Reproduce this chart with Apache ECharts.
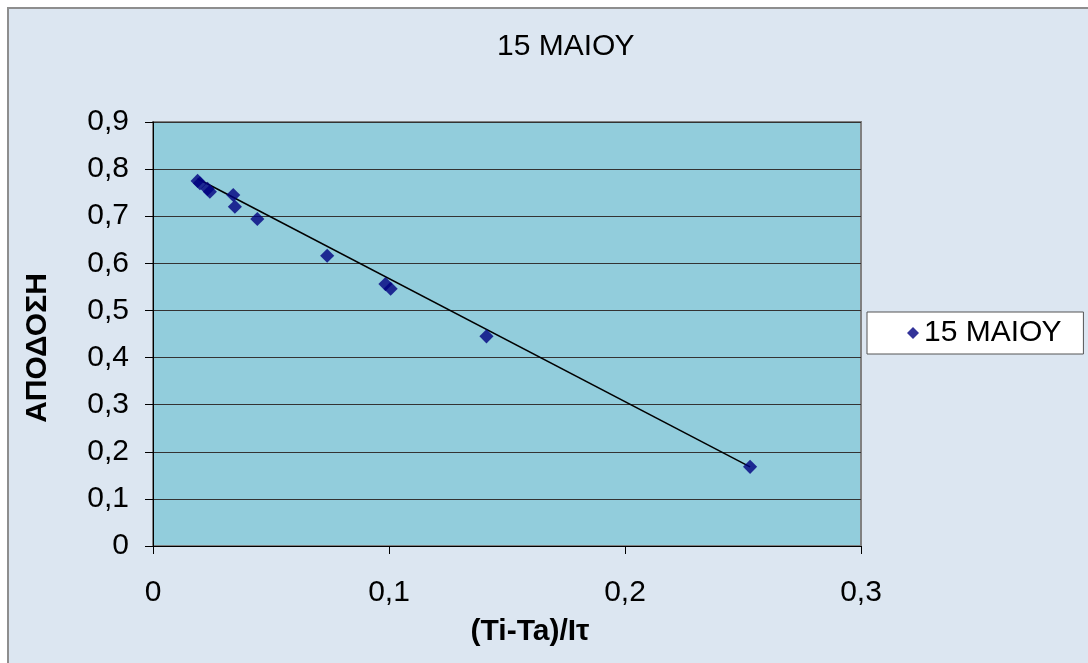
<!DOCTYPE html>
<html>
<head>
<meta charset="utf-8">
<script src="https://cdn.jsdelivr.net/npm/echarts@6/dist/echarts.min.js"></script>
<style>
html, body { margin: 0; padding: 0; background: #ffffff; }
#chart { width: 1088px; height: 663px; }
</style>
</head>
<body>
<div id="chart"></div>
<script>
// Efficiency vs (Ti-Ta)/Iτ measurements, 15 May
const seriesName = '15 ΜΑΙΟΥ';
const xValues = [0.0189, 0.0199, 0.0231, 0.0241, 0.0340, 0.0347, 0.0442, 0.0738, 0.0985, 0.1007, 0.1413, 0.2530];
const yValues = [0.775, 0.770, 0.758, 0.752, 0.745, 0.720, 0.694, 0.616, 0.556, 0.546, 0.445, 0.168];

// Linear trend line end points
const trendX = [0.0189, 0.2530];
const trendY = [0.7796, 0.1680];

const xTickLabels = ['0', '0,1', '0,2', '0,3'];
const yTickLabels = ['0', '0,1', '0,2', '0,3', '0,4', '0,5', '0,6', '0,7', '0,8', '0,9'];

const FONT = "'Liberation Sans', Arial, sans-serif";
const FS = 30;

const points = xValues.map((x, i) => [x, yValues[i]]);
const trend = trendX.map((x, i) => [x, trendY[i]]);

const chart = echarts.init(document.getElementById('chart'), null, { renderer: 'canvas' });

chart.setOption({
  backgroundColor: '#ffffff',
  animation: false,
  graphic: [{
    type: 'rect',
    z: -10,
    shape: { x: 8, y: 8, width: 1100, height: 700 },
    style: { fill: '#DCE6F1', stroke: '#8E8E8E', lineWidth: 2 }
  }],
  title: {
    text: seriesName,
    left: 497,
    top: 32,
    padding: 0,
    textStyle: { fontFamily: FONT, fontSize: FS, fontWeight: 'normal', color: '#000' }
  },
  legend: {
    data: [seriesName],
    left: 867,
    top: 312,
    orient: 'vertical',
    backgroundColor: '#ffffff',
    borderColor: '#555555',
    borderWidth: 1,
    borderRadius: 0,
    padding: [6, 22, 6, 40],
    itemWidth: 12,
    itemHeight: 12,
    itemGap: 0,
    icon: 'path://M5,0L10,5L5,10L0,5Z',
    textStyle: { fontFamily: FONT, fontSize: FS, color: '#000' }
  },
  grid: {
    left: 153,
    top: 122,
    right: 227,
    bottom: 117,
    show: true,
    backgroundColor: '#92CDDC',
    borderColor: '#808080',
    borderWidth: 2
  },
  xAxis: {
    type: 'value',
    min: 0,
    max: 0.3,
    interval: 0.1,
    name: '(Ti-Ta)/Iτ',
    nameLocation: 'middle',
    nameGap: 71,
    nameTextStyle: {
      fontFamily: FONT, fontSize: FS, fontWeight: 'bold', color: '#000',
      padding: [0, 0, 0, 46]
    },
    axisLine: { show: true, onZero: false, lineStyle: { color: '#000', width: 1 } },
    axisTick: { show: true, inside: false, length: 8, lineStyle: { color: '#000' } },
    axisLabel: {
      margin: 32,
      fontFamily: FONT, fontSize: FS, color: '#000',
      formatter: v => xTickLabels[Math.round(v * 10)]
    },
    splitLine: { show: false }
  },
  yAxis: {
    type: 'value',
    min: 0,
    max: 0.9,
    interval: 0.1,
    name: 'ΑΠΟΔΟΣΗ',
    nameLocation: 'middle',
    nameRotate: 90,
    nameGap: 100,
    nameTextStyle: {
      fontFamily: FONT, fontSize: FS, fontWeight: 'bold', color: '#000',
      padding: [0, 28, 0, 0]
    },
    axisLine: { show: true, onZero: false, lineStyle: { color: '#000', width: 1 } },
    axisTick: { show: true, inside: false, length: 8, lineStyle: { color: '#000' } },
    axisLabel: {
      margin: 24,
      fontFamily: FONT, fontSize: FS, color: '#000',
      formatter: v => yTickLabels[Math.round(v * 10)]
    },
    splitLine: { show: true, lineStyle: { color: '#333333', width: 1 } }
  },
  series: [
    {
      name: 'trend',
      type: 'line',
      data: trend,
      symbol: 'none',
      silent: true,
      z: 2,
      lineStyle: { color: '#000', width: 1.5 }
    },
    {
      name: seriesName,
      type: 'scatter',
      data: points,
      symbol: 'rect',
      symbolRotate: 45,
      symbolSize: 10,
      z: 3,
      itemStyle: { color: '#000080' }
    }
  ]
});
</script>
</body>
</html>
